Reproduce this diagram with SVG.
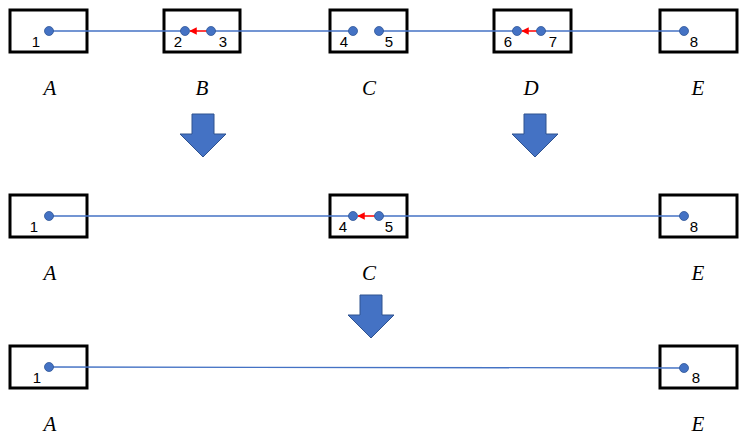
<svg xmlns="http://www.w3.org/2000/svg" width="747" height="441" viewBox="0 0 747 441">
<defs>
<style>
.box{fill:#fff;stroke:#000;stroke-width:3}
.ln{stroke:#4472C4;stroke-width:1.3;fill:none}
.dot{fill:#4472C4;stroke:#2F5597;stroke-width:0.8}
.num{font-family:"Liberation Sans",Arial,sans-serif;font-size:15px;fill:#000;text-anchor:middle}
.lbl{font-family:"Liberation Serif","DejaVu Serif",serif;font-style:italic;font-size:21px;fill:#000;text-anchor:middle}
.red{stroke:#FF0000;stroke-width:1.5;fill:none;marker-end:url(#ah)}
.big{fill:#4472C4;stroke:#2F528F;stroke-width:1}
</style>
<marker id="ah" viewBox="0 0 10 10" refX="9" refY="5" markerWidth="5" markerHeight="5" orient="auto">
<path d="M0,0 L10,5 L0,10 z" fill="#FF0000"/>
</marker>
<path id="down" d="M-11,0 H11 V20 H23 L0,43 L-23,20 H-11 Z"/>
</defs>
<rect width="747" height="441" fill="#fff"/>
<g id="n-A1"><rect class="box" x="10" y="10" width="77" height="42"/><text class="lbl" x="50" y="95">A</text></g>
<g id="n-B1"><rect class="box" x="164" y="10" width="76" height="42"/><text class="lbl" x="202" y="95">B</text></g>
<g id="n-C1"><rect class="box" x="330" y="10" width="77" height="42"/><text class="lbl" x="369" y="95">C</text></g>
<g id="n-D1"><rect class="box" x="494" y="10" width="77" height="42"/><text class="lbl" x="531" y="95">D</text></g>
<g id="n-E1"><rect class="box" x="660" y="10" width="77" height="42"/><text class="lbl" x="698" y="95">E</text></g>
<g id="n-A2"><rect class="box" x="10" y="195" width="77" height="42"/><text class="lbl" x="50" y="280">A</text></g>
<g id="n-C2"><rect class="box" x="330" y="195" width="77" height="42"/><text class="lbl" x="369" y="280">C</text></g>
<g id="n-E2"><rect class="box" x="660" y="195" width="77" height="42"/><text class="lbl" x="698" y="280">E</text></g>
<g id="n-A3"><rect class="box" x="10" y="346" width="77" height="42"/><text class="lbl" x="50" y="431">A</text></g>
<g id="n-E3"><rect class="box" x="660" y="346" width="77" height="42"/><text class="lbl" x="698" y="431">E</text></g>
<g id="connectors">
<line class="ln" x1="49" y1="31" x2="185" y2="31"/>
<line class="ln" x1="211" y1="31" x2="353" y2="31"/>
<line class="ln" x1="379" y1="31" x2="517" y2="31"/>
<line class="ln" x1="541" y1="31" x2="684" y2="31"/>
<line class="red" x1="207" y1="31" x2="190" y2="31"/>
<line class="red" x1="537" y1="31" x2="522" y2="31"/>
<line class="ln" x1="49" y1="216" x2="353" y2="216"/>
<line class="ln" x1="379" y1="216" x2="684" y2="216"/>
<line class="red" x1="375" y1="216" x2="358" y2="216"/>
<line class="ln" x1="49" y1="367" x2="684" y2="368"/>
<use href="#down" class="big" x="203" y="114"/>
<use href="#down" class="big" x="535" y="114"/>
<use href="#down" class="big" x="371" y="295"/>
</g>
<g id="points">
<circle class="dot" cx="49" cy="31" r="4.5"/><text class="num" x="36" y="47">1</text>
<circle class="dot" cx="185" cy="31" r="4.5"/><text class="num" x="178" y="47">2</text>
<circle class="dot" cx="211" cy="31" r="4.5"/><text class="num" x="223" y="47">3</text>
<circle class="dot" cx="353" cy="31" r="4.5"/><text class="num" x="344" y="47">4</text>
<circle class="dot" cx="379" cy="31" r="4.5"/><text class="num" x="389" y="47">5</text>
<circle class="dot" cx="517" cy="31" r="4.5"/><text class="num" x="508" y="47">6</text>
<circle class="dot" cx="541" cy="31" r="4.5"/><text class="num" x="553" y="47">7</text>
<circle class="dot" cx="684" cy="31" r="4.5"/><text class="num" x="694" y="47">8</text>
<circle class="dot" cx="49" cy="216" r="4.5"/><text class="num" x="34" y="232">1</text>
<circle class="dot" cx="353" cy="216" r="4.5"/><text class="num" x="343" y="232">4</text>
<circle class="dot" cx="379" cy="216" r="4.5"/><text class="num" x="389" y="232">5</text>
<circle class="dot" cx="684" cy="216" r="4.5"/><text class="num" x="694" y="232">8</text>
<circle class="dot" cx="49" cy="367" r="4.5"/><text class="num" x="37" y="383">1</text>
<circle class="dot" cx="684" cy="368" r="4.5"/><text class="num" x="696" y="383">8</text>
</g>
</svg>
